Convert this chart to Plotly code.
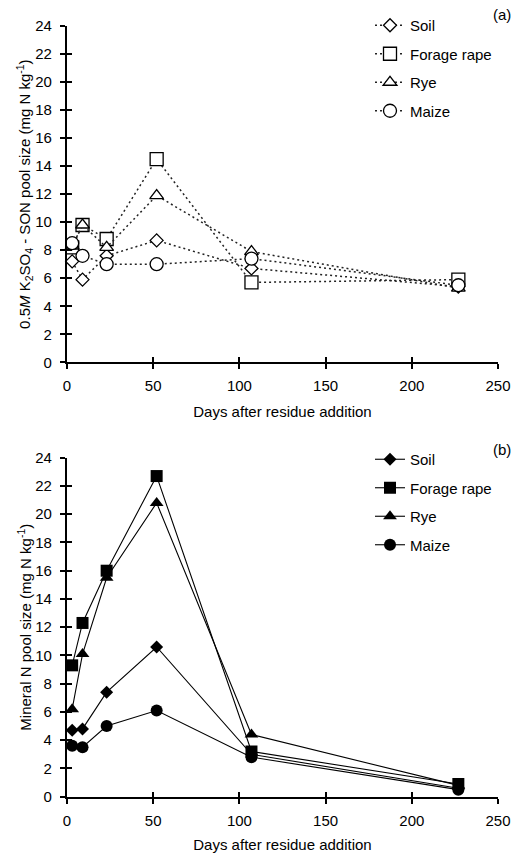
import plotly.graph_objects as go

# ---- data ----
days = [3, 9, 23, 52, 107, 227]
series_names = ["Soil", "Forage rape", "Rye", "Maize"]

son_soil = [7.2, 5.9, 7.6, 8.7, 6.7, 5.4]
son_rape = [8.2, 9.8, 8.8, 14.5, 5.7, 5.9]
son_rye = [8.3, 9.8, 8.2, 11.9, 7.9, 5.3]
son_maize = [8.5, 7.6, 7.0, 7.0, 7.4, 5.5]

min_soil = [4.7, 4.8, 7.4, 10.6, 3.0, 0.6]
min_rape = [9.3, 12.3, 16.0, 22.7, 3.2, 0.9]
min_rye = [6.2, 10.1, 15.5, 20.8, 4.4, 0.8]
min_maize = [3.6, 3.5, 5.0, 6.1, 2.8, 0.5]

x_ticks = [0, 50, 100, 150, 200, 250]
y_ticks = list(range(0, 25, 2))

# ---- style ----
FONT = "Liberation Sans, Arial, sans-serif"
symbols = ["diamond", "square", "triangle-up", "circle"]
open_sizes = [10, 13, 12, 13]
filled_sizes = [10, 12, 12, 12]

fig = go.Figure()

son_data = [son_soil, son_rape, son_rye, son_maize]
min_data = [min_soil, min_rape, min_rye, min_maize]

for i, name in enumerate(series_names):
    fig.add_trace(go.Scatter(
        x=days, y=son_data[i], name=name, mode="lines+markers",
        xaxis="x", yaxis="y", legend="legend", legendgroup="a" + name,
        line=dict(color="#222", width=1.5, dash="2px,3px"),
        marker=dict(symbol=symbols[i], size=open_sizes[i], color="white",
                    line=dict(color="black", width=1.3)),
        cliponaxis=False,
    ))
for i, name in enumerate(series_names):
    fig.add_trace(go.Scatter(
        x=days, y=min_data[i], name=name, mode="lines+markers",
        xaxis="x2", yaxis="y2", legend="legend2", legendgroup="b" + name,
        line=dict(color="black", width=1.1),
        marker=dict(symbol=symbols[i], size=filled_sizes[i], color="black",
                    line=dict(color="black", width=0)),
        cliponaxis=False,
    ))

XD = [67 / 517, 498 / 517]
YD_TOP = [1 - 362.3 / 853, 1 - 26 / 853]
YD_BOT = [1 - 796.7 / 853, 1 - 457.7 / 853]

tickfont = dict(family=FONT, size=15, color="black")

def xax(anchor, title):
    return dict(
        domain=XD, anchor=anchor, range=[0, 250], tickvals=x_ticks, automargin=False,
        showgrid=False, zeroline=False, showline=True, linecolor="black", linewidth=2.2,
        ticks="outside", ticklen=5, tickwidth=2.2, tickcolor="black",
        tickfont=tickfont, ticklabelstandoff=4,
        title=dict(text=title, font=dict(family=FONT, size=15, color="black"), standoff=13),
    )

def yax(anchor, domain, title):
    return dict(
        domain=domain, anchor=anchor, range=[0, 24], tickvals=y_ticks, automargin=False,
        showgrid=False, zeroline=False, showline=True, linecolor="black", linewidth=2.2,
        ticks="outside", ticklen=5, tickwidth=2.2, tickcolor="black",
        tickfont=tickfont, ticklabelstandoff=5,
        title=dict(text=title, font=dict(family=FONT, size=15, color="black"), standoff=0),
    )

def xover(over, anchor):
    return dict(overlaying=over, anchor=anchor, range=[0, 250], tickvals=x_ticks, automargin=False,
                showgrid=False, zeroline=False, showline=False, showticklabels=False,
                ticks="inside", ticklen=5, tickwidth=2.2, tickcolor="black", side="bottom")

def yover(over, anchor):
    return dict(overlaying=over, anchor=anchor, range=[0, 24], tickvals=y_ticks, automargin=False,
                showgrid=False, zeroline=False, showline=False, showticklabels=False,
                ticks="inside", ticklen=5, tickwidth=2.2, tickcolor="black", side="left")

fig.update_layout(
    width=517, height=853,
    margin=dict(l=0, r=0, t=0, b=0),
    paper_bgcolor="white", plot_bgcolor="white",
    font=dict(family=FONT, size=15, color="black"),
    xaxis=xax("y", "Days after residue addition"),
    yaxis=yax("x", YD_TOP, "0.5<i>M</i> K<sub>2</sub>SO<sub>4</sub> - SON pool size (mg N kg<sup>-1</sup>)"),
    xaxis2=xax("y2", "Days after residue addition"),
    yaxis2=yax("x2", YD_BOT, "Mineral N pool size (mg N kg<sup>-1</sup>)"),
    xaxis3=xover("x", "y"),
    yaxis3=yover("y", "x"),
    xaxis4=xover("x2", "y2"),
    yaxis4=yover("y2", "x2"),
    legend=dict(x=370 / 517, y=1 - 9 / 853, xanchor="left", yanchor="top",
                bgcolor="rgba(0,0,0,0)", font=dict(family=FONT, size=15, color="black"),
                tracegroupgap=6, itemwidth=30),
    legend2=dict(x=370 / 517, y=1 - 443 / 853, xanchor="left", yanchor="top",
                 bgcolor="rgba(0,0,0,0)", font=dict(family=FONT, size=15, color="black"),
                 tracegroupgap=6, itemwidth=30),
    annotations=[
        dict(text="(a)", x=501.7 / 517, y=1 - 15 / 853, xref="paper", yref="paper",
             xanchor="center", yanchor="middle",
             showarrow=False, font=dict(family=FONT, size=15, color="black")),
        dict(text="(b)", x=501.7 / 517, y=1 - 449.3 / 853, xref="paper", yref="paper",
             xanchor="center", yanchor="middle",
             showarrow=False, font=dict(family=FONT, size=15, color="black")),
    ],
)

# empty helper traces to bind the overlay tick axes
for xa, ya in [("x3", "y"), ("x", "y3"), ("x4", "y2"), ("x2", "y4")]:
    fig.add_trace(go.Scatter(x=[], y=[], xaxis=xa, yaxis=ya, showlegend=False, hoverinfo="skip"))

fig.write_html("out.html", config={"displayModeBar": False},
               post_script="document.body.style.margin='0';")
